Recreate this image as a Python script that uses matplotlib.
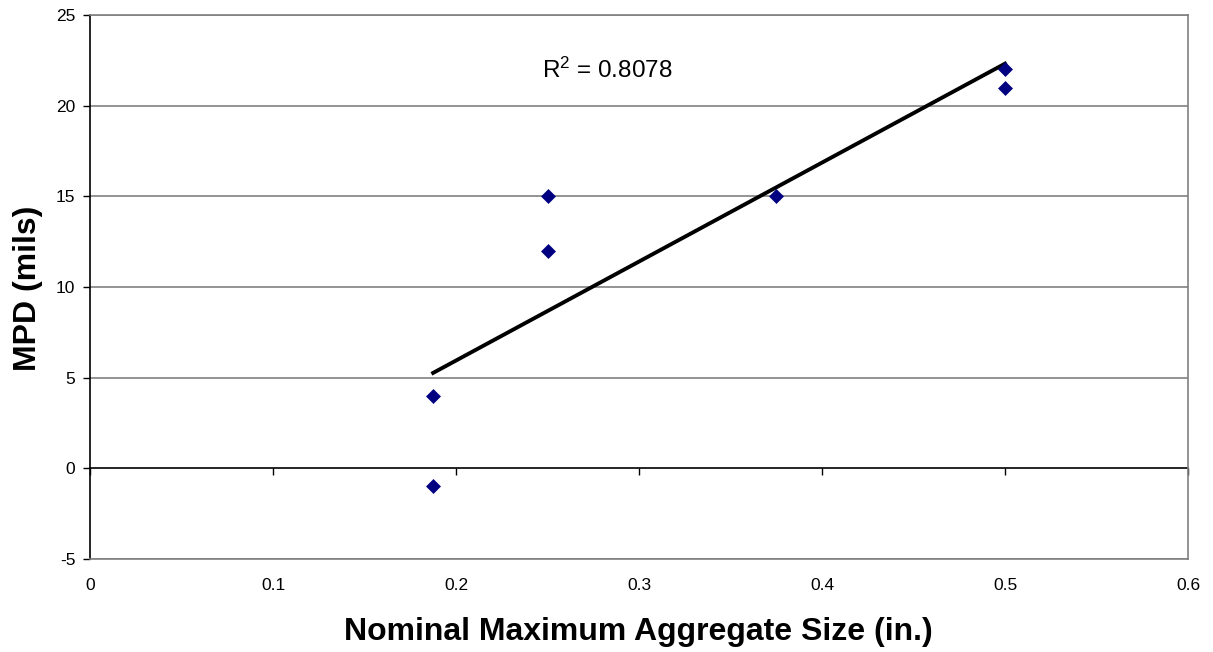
import matplotlib
matplotlib.use("Agg")
import matplotlib.pyplot as plt
import numpy as np

plt.rcParams['font.family'] = ['Liberation Sans', 'DejaVu Sans']
plt.rcParams['mathtext.fontset'] = 'custom'
plt.rcParams['mathtext.rm'] = 'Liberation Sans'
plt.rcParams['mathtext.it'] = 'Liberation Sans'

x_vals = [0.1875, 0.1875, 0.25, 0.25, 0.375, 0.5, 0.5]
y_vals = [4, -1, 15, 12, 15, 22, 21]
r2_label = r"$\mathrm{R}^{2}$ = 0.8078"
x_ticks = [0, 0.1, 0.2, 0.3, 0.4, 0.5, 0.6]
y_ticks = [-5, 0, 5, 10, 15, 20, 25]

W, H = 1213, 652
fig = plt.figure(figsize=(W/100, H/100), dpi=100)
L, R, T, B = 90, 1188, 15, 559
ax = fig.add_axes([L/W, 1 - B/H, (R-L)/W, (B-T)/H])

ax.set_xlim(0, 0.6)
ax.set_ylim(-5, 25)
ax.set_xticks(x_ticks)
ax.set_yticks(y_ticks)
ax.set_xticklabels([f"{t:g}" for t in x_ticks])
ax.set_yticklabels([f"{t:g}" for t in y_ticks])

for yv in y_ticks:
    if yv != 0:
        ax.axhline(yv, color='#808080', lw=1.2, zorder=1)

for s in ['top', 'right', 'bottom']:
    ax.spines[s].set_color('#808080')
    ax.spines[s].set_linewidth(1.2)
ax.spines['left'].set_color('black')
ax.spines['left'].set_linewidth(1.2)

ax.tick_params(axis='y', direction='out', length=5, width=1, labelsize=12.5, pad=5.5)
ax.tick_params(axis='x', length=0, labelsize=12.5, pad=14)

# zero-line axis with tick marks
sec = ax.secondary_xaxis(5/30)
sec.set_xticks(x_ticks)
sec.tick_params(axis='x', direction='out', length=5, width=1, labelbottom=False)
sec.spines['bottom'].set_color('black')
sec.spines['bottom'].set_linewidth(1.2)

ax.scatter(x_vals, y_vals, marker='D', s=58, color='#000080', zorder=4, linewidths=0)

xs = np.array(x_vals)
ys = np.array(y_vals)
m, c = np.polyfit(xs, ys, 1)
xl = np.array([xs.min(), xs.max()])
ax.plot(xl, m*xl + c, color='black', lw=2.8, zorder=3)

ax.text(0.247, 21.55, r2_label, fontsize=17.5, va='baseline', ha='left')

fig.text(638/W, 1 - 640/H, "Nominal Maximum Aggregate Size (in.)", fontsize=23,
         fontweight='bold', ha='center', va='baseline')
fig.text(28/W, 1 - 288/H, "MPD (mils)", fontsize=23, fontweight='bold',
         rotation=90, ha='center', va='center')

fig.savefig("out.png", dpi=100)
